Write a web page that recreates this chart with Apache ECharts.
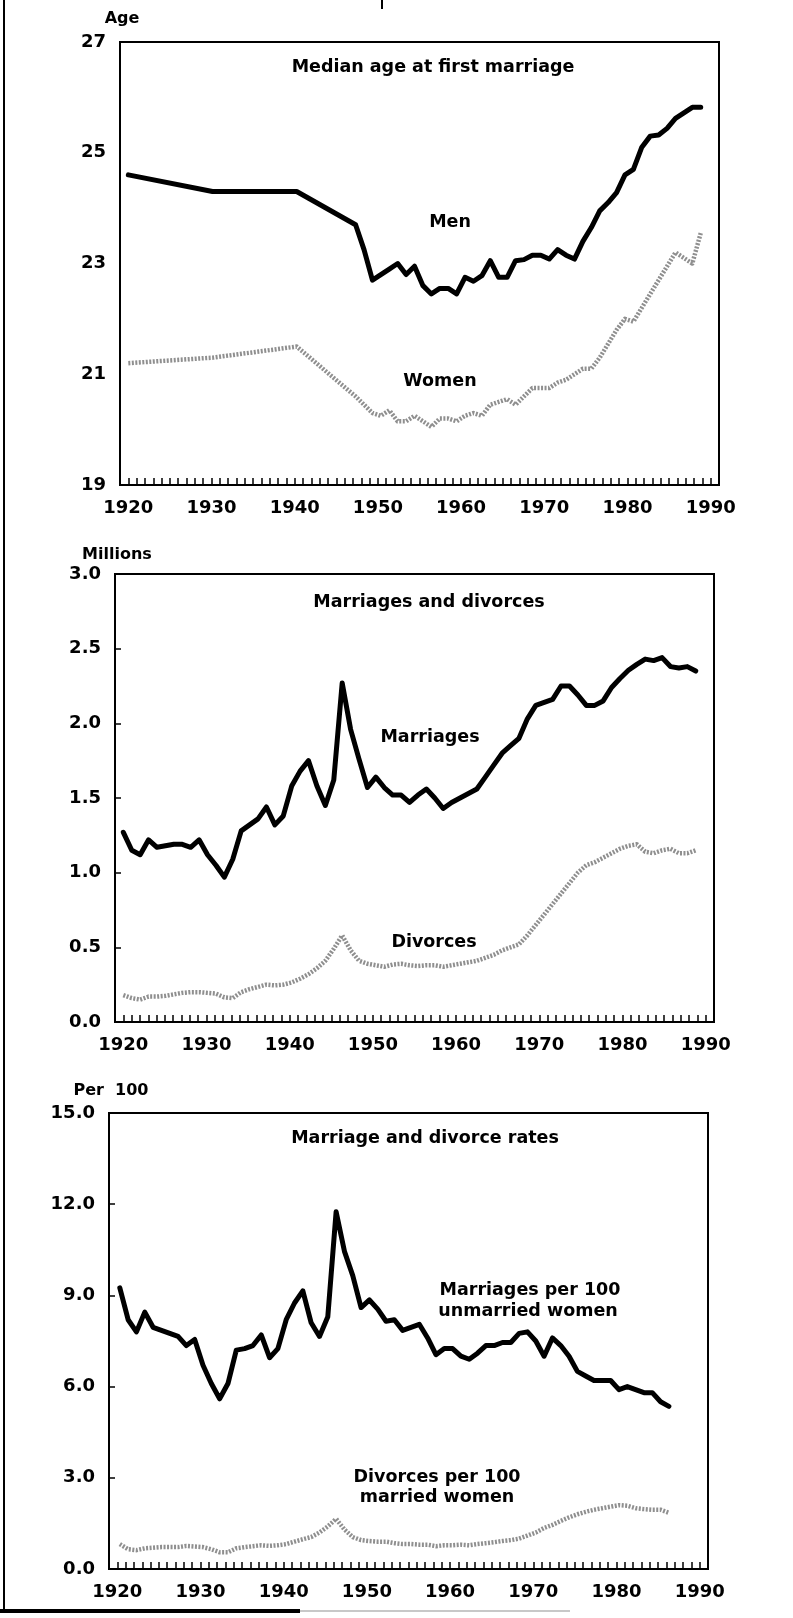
<!DOCTYPE html>
<html>
<head>
<meta charset="utf-8">
<script src="https://cdn.jsdelivr.net/npm/echarts@6/dist/echarts.min.js"></script>
<style>
html,body{margin:0;padding:0;background:#fff;}
#chart{width:793px;height:1618px;}
</style>
</head>
<body>
<div id="chart"></div>
<script>
// ---------- DATA ----------
// Panel 1: median age at first marriage
const ageYears = [1920,1930,1940,
  1947,1948,1949,1950,1951,1952,1953,1954,1955,1956,1957,1958,1959,1960,
  1961,1962,1963,1964,1965,1966,1967,1968,1969,1970,1971,1972,1973,1974,
  1975,1976,1977,1978,1979,1980,1981,1982,1983,1984,1985,1986,1987,1988];
const menAge = [24.6,24.3,24.3,
  23.7,23.25,22.7,22.8,22.9,23.0,22.8,22.95,22.6,22.45,22.55,22.55,22.45,22.75,
  22.68,22.78,23.05,22.75,22.75,23.05,23.07,23.15,23.15,23.08,23.25,23.15,23.08,23.4,
  23.65,23.95,24.1,24.28,24.6,24.7,25.1,25.3,25.32,25.44,25.62,25.72,25.82,25.82];
const womenAge = [21.2,21.3,21.5,
  20.6,20.45,20.3,20.25,20.35,20.15,20.15,20.25,20.15,20.05,20.2,20.2,20.15,20.25,
  20.3,20.25,20.45,20.5,20.55,20.45,20.6,20.75,20.75,20.75,20.85,20.9,21.0,21.1,
  21.1,21.3,21.55,21.8,22.0,21.95,22.2,22.45,22.7,22.95,23.2,23.1,23.0,23.55];

// Panel 2: marriages and divorces (millions), 1920-1988
const countYears = [];
for (let y = 1920; y <= 1988; y++) countYears.push(y);
const marriagesM = [1.27,1.15,1.12,1.22,1.17,1.18,1.19,1.19,1.17,1.22,
  1.12,1.05,0.97,1.09,1.28,1.32,1.36,1.44,1.32,1.38,
  1.58,1.68,1.75,1.58,1.45,1.62,2.27,1.96,1.76,1.57,
  1.64,1.57,1.52,1.52,1.47,1.52,1.56,1.50,1.43,1.47,
  1.50,1.53,1.56,1.64,1.72,1.80,1.85,1.90,2.03,2.12,
  2.14,2.16,2.25,2.25,2.19,2.12,2.12,2.15,2.24,2.30,
  2.355,2.395,2.43,2.42,2.44,2.38,2.37,2.38,2.35];
const divorcesM = [0.18,0.16,0.15,0.17,0.17,0.175,0.185,0.195,0.20,0.20,
  0.195,0.19,0.165,0.16,0.20,0.22,0.235,0.25,0.245,0.25,
  0.265,0.29,0.32,0.36,0.41,0.49,0.58,0.48,0.41,0.39,
  0.38,0.37,0.385,0.39,0.38,0.375,0.38,0.38,0.37,0.38,
  0.39,0.40,0.41,0.43,0.45,0.48,0.50,0.52,0.58,0.65,
  0.72,0.79,0.86,0.93,1.00,1.05,1.07,1.10,1.13,1.16,
  1.18,1.19,1.14,1.13,1.15,1.16,1.13,1.13,1.15];

// Panel 3: rates per 100, 1920-1986
const rateYears = [];
for (let y = 1920; y <= 1986; y++) rateYears.push(y);
const marriageRate = [9.25,8.2,7.8,8.45,7.95,7.85,7.75,7.65,7.35,7.55,
  6.7,6.1,5.6,6.1,7.2,7.25,7.35,7.7,6.95,7.25,
  8.2,8.75,9.15,8.1,7.65,8.3,11.75,10.45,9.65,8.6,
  8.85,8.55,8.15,8.2,7.85,7.95,8.05,7.6,7.05,7.25,
  7.25,7.0,6.9,7.1,7.35,7.35,7.45,7.45,7.75,7.8,
  7.5,7.0,7.6,7.35,7.0,6.5,6.35,6.2,6.2,6.2,
  5.9,6.0,5.9,5.8,5.8,5.5,5.35];
const divorceRate = [0.82,0.65,0.62,0.68,0.70,0.72,0.72,0.72,0.76,0.74,
  0.72,0.65,0.55,0.55,0.68,0.72,0.75,0.78,0.76,0.78,
  0.82,0.90,0.98,1.05,1.20,1.40,1.65,1.30,1.05,0.95,
  0.92,0.90,0.90,0.85,0.82,0.82,0.80,0.80,0.75,0.78,
  0.78,0.80,0.78,0.82,0.85,0.88,0.92,0.95,1.00,1.10,
  1.20,1.35,1.45,1.58,1.70,1.80,1.88,1.95,2.00,2.05,
  2.10,2.08,2.00,1.97,1.95,1.95,1.85];

// Tick labels
const ageTicks = [19,21,23,25,27];
const yearLabels = [1920,1930,1940,1950,1960,1970,1980,1990];

// ---------- STYLE ----------
const FONT = 'DejaVu Sans';
const grids = [
  {left:120, top:42,   width:599, height:443},
  {left:115, top:574,  width:599, height:448},
  {left:109, top:1113, width:599, height:456}
];
// hidden data-axis extents per panel (where the drawn lines sit against the year labels)
const dataExtents = [[1919.01,1990.17],[1919.01,1990.17],[1918.7,1990.7]];

function pairs(xs, ys){ return xs.map((x,i)=>[x, ys[i]]); }

const tickLabelStyle = {fontFamily:FONT, fontWeight:'bold', fontSize:18, color:'#000'};

const xAxis = [];
grids.forEach((g,gi)=>{
  xAxis.push({
    gridIndex:gi, type:'value', min:1919, max:1991, interval:1,
    axisLine:{show:true, lineStyle:{color:'#000', width:2}},
    axisTick:{show:true, inside:true, length:7, lineStyle:{color:'#000', width:1.5}},
    axisLabel:Object.assign({margin:14, formatter:v=>{
      const r=Math.round(v); return (Math.abs(v-r)<1e-6 && yearLabels.includes(r)) ? String(r) : '';
    }}, tickLabelStyle),
    splitLine:{show:false}
  });
});
grids.forEach((g,gi)=>{
  xAxis.push({gridIndex:gi, type:'value', min:dataExtents[gi][0], max:dataExtents[gi][1], show:false, splitLine:{show:false}});
});

const yAxis = [
  {gridIndex:0, type:'value', min:19, max:27, interval:1,
   axisLine:{show:true, lineStyle:{color:'#000', width:2}},
   axisTick:{show:false},
   axisLabel:Object.assign({margin:14, formatter:v=>ageTicks.includes(Math.round(v))&&Math.abs(v-Math.round(v))<1e-6?String(Math.round(v)):''}, tickLabelStyle),
   splitLine:{show:false}},
  {gridIndex:1, type:'value', min:0, max:3, interval:0.5,
   axisLine:{show:true, lineStyle:{color:'#000', width:2}},
   axisTick:{show:true, inside:true, length:6, lineStyle:{color:'#000', width:1.5}},
   axisLabel:Object.assign({margin:14, formatter:v=>v.toFixed(1)}, tickLabelStyle),
   splitLine:{show:false}},
  {gridIndex:2, type:'value', min:0, max:15, interval:3,
   axisLine:{show:true, lineStyle:{color:'#000', width:2}},
   axisTick:{show:true, inside:true, length:6, lineStyle:{color:'#000', width:1.5}},
   axisLabel:Object.assign({margin:14, formatter:v=>v.toFixed(1)}, tickLabelStyle),
   splitLine:{show:false}}
];

const black = {color:'#000', width:5, join:'round', cap:'round'};
const gray  = {color:'#8f8f8f', width:4.5, type:[2,1.5], join:'round'};

function line(gi, data, style, z){
  return {type:'line', xAxisIndex:3+gi, yAxisIndex:gi, data:data, showSymbol:false,
          symbol:'none', lineStyle:style, z:z, silent:true, animation:false};
}

const series = [
  line(0, pairs(ageYears, womenAge), gray, 2),
  line(0, pairs(ageYears, menAge), black, 3),
  line(1, pairs(countYears, divorcesM), gray, 2),
  line(1, pairs(countYears, marriagesM), black, 3),
  line(2, pairs(rateYears, divorceRate), gray, 2),
  line(2, pairs(rateYears, marriageRate), black, 3)
];

function txt(s, x, y, size, align){
  return {type:'text', x:x, y:y, z:10, style:{text:s, fill:'#000',
    font:'bold '+size+'px "'+FONT+'"', textAlign:align||'center', textVerticalAlign:'middle'}};
}

const A = 17.5; // annotation font size
const graphic = [
  // page frame remnants
  {type:'rect', shape:{x:3, y:0, width:2, height:1612}, style:{fill:'#000'}},
  {type:'rect', shape:{x:0, y:1609, width:300, height:4}, style:{fill:'#000'}},
  {type:'rect', shape:{x:300, y:1610, width:270, height:2}, style:{fill:'#c8c8c8'}},
  {type:'rect', shape:{x:381, y:0, width:2, height:9}, style:{fill:'#000'}},
  // axis titles
  txt('Age', 122, 19, 16),
  txt('Millions', 117, 555, 16),
  txt('Per  100', 111, 1091, 16),
  // panel titles
  txt('Median age at first marriage', 433, 67, A),
  txt('Marriages and divorces', 429, 602, A),
  txt('Marriage and divorce rates', 425, 1138, A),
  // series labels
  txt('Men', 450, 222, A),
  txt('Women', 440, 381, A),
  txt('Marriages', 430, 737, A),
  txt('Divorces', 434, 942, A),
  txt('Marriages per 100', 530, 1290, A),
  txt('unmarried women', 528, 1311, A),
  txt('Divorces per 100', 437, 1477, A),
  txt('married women', 437, 1497, A)
];

const chart = echarts.init(document.getElementById('chart'), null, {renderer:'canvas'});
chart.setOption({
  animation:false,
  backgroundColor:'#fff',
  grid: grids.map(g=>Object.assign({show:true, borderColor:'#000', borderWidth:2, backgroundColor:'rgba(0,0,0,0)', containLabel:false}, g)),
  xAxis: xAxis,
  yAxis: yAxis,
  series: series,
  graphic: graphic
});
</script>
</body>
</html>
